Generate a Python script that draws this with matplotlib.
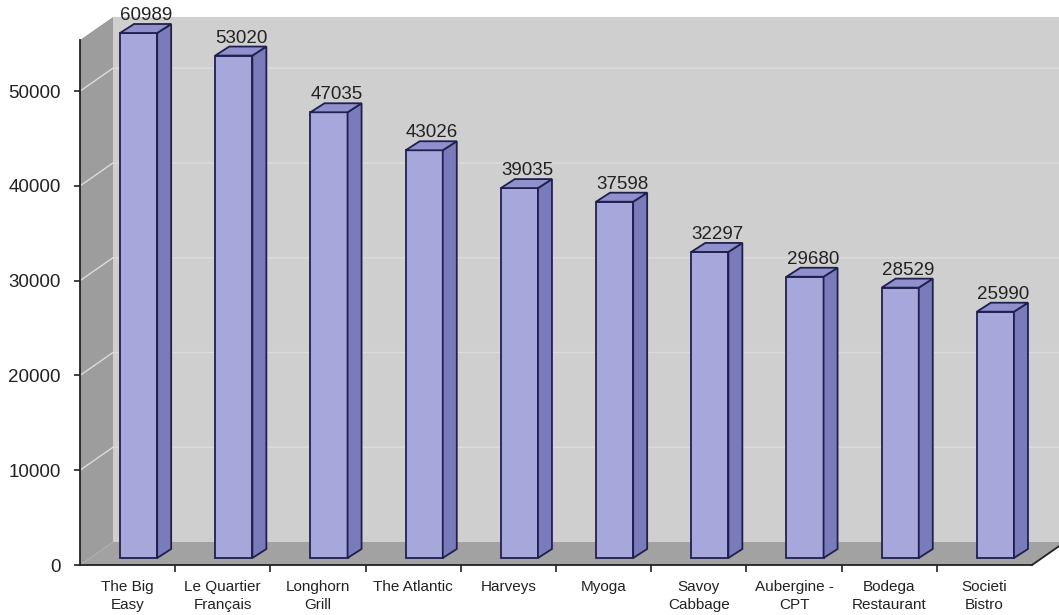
import matplotlib.pyplot as plt
from matplotlib.patches import Polygon
from matplotlib.lines import Line2D
from matplotlib.transforms import IdentityTransform

restaurants = ["The Big\nEasy", "Le Quartier\nFrançais", "Longhorn\nGrill", "The Atlantic",
               "Harveys", "Myoga", "Savoy\nCabbage", "Aubergine -\nCPT",
               "Bodega\nRestaurant", "Societi\nBistro"]
visitors = [60989, 53020, 47035, 43026, 39035, 37598, 32297, 29680, 28529, 25990]
yticks = [0, 10000, 20000, 30000, 40000, 50000]

plt.rcParams['font.family'] = ['Liberation Sans', 'DejaVu Sans']

fig = plt.figure(figsize=(10.59, 6.15), dpi=100)
ax = fig.add_axes([80 / 1059, 50 / 615, 952 / 1059, 525 / 615])
ymax = 55400
ax.set_xlim(-0.5, len(visitors) - 0.5)
ax.set_ylim(0, ymax)
ax.patch.set_visible(False)
ax.spines['top'].set_visible(False)
ax.spines['right'].set_visible(False)
for s in ['left', 'bottom']:
    ax.spines[s].set_color('#222222')
    ax.spines[s].set_linewidth(1.3)

ax.set_yticks(yticks)
ax.set_yticklabels([str(t) for t in yticks])
ax.tick_params(axis='y', length=4, width=1.2, pad=10, labelsize=13.5, colors='#222222')
ax.set_xticks(range(len(restaurants)))
ax.set_xticklabels(restaurants, linespacing=1.35)
ax.tick_params(axis='x', length=0, pad=11, labelsize=11, colors='#222222')
ax.set_xticks([i + 0.5 for i in range(len(restaurants) - 1)], minor=True)
ax.tick_params(axis='x', which='minor', length=5, width=1.2, color='#222222')

# depth of the 3d box (pixels)
dx, dy = 33, 23
(x0, y0) = ax.transData.transform((-0.5, 0))
(x1, y1) = ax.transData.transform((len(visitors) - 0.5, ymax))
ident = IdentityTransform()

def poly(pts, fc, ec='none', lw=0, z=0.5):
    p = Polygon(pts, closed=True, facecolor=fc, edgecolor=ec, linewidth=lw,
                transform=ident, zorder=z, clip_on=False)
    ax.add_patch(p)

# back wall, side wall, floor
poly([(x0 + dx, y0 + dy), (x1 + dx, y0 + dy), (x1 + dx, y1 + dy), (x0 + dx, y1 + dy)], '#cfcfcf', z=0.1)
poly([(x0, y0), (x0 + dx, y0 + dy), (x0 + dx, y1 + dy), (x0, y1)], '#9d9d9d', z=0.2)
poly([(x0, y0), (x1, y0), (x1 + dx, y0 + dy), (x0 + dx, y0 + dy)], '#a2a2a2', z=0.2)
ax.add_line(Line2D([x1, x1 + dx], [y0, y0 + dy], color='#222222', lw=1.3,
                   transform=ident, clip_on=False, zorder=0.3))

# faint gridlines on walls
for t in yticks[1:]:
    yt = ax.transData.transform((0, t))[1]
    ax.add_line(Line2D([x0, x0 + dx, x1 + dx], [yt, yt + dy, yt + dy], color='#dcdcdc',
                       lw=1.0, transform=ident, clip_on=False, zorder=0.25))

# bars
bw = 0.39
ox, oy = 11, 7      # offset of bar front from the front plane
sx, sy = 14, 9      # bar depth
front = '#a6a8dc'
side = '#7a7bbb'
top = '#8f90cc'
edge = '#20204e'
for i, v in enumerate(visitors):
    h = min(v, ymax)
    xl, yb = ax.transData.transform((i - bw / 2, 0))
    xr, yt = ax.transData.transform((i + bw / 2, h))
    xl, xr, yb, yt = xl + ox, xr + ox, yb + oy, yt + oy
    poly([(xl, yb), (xr, yb), (xr, yt), (xl, yt)], front, edge, 1.3, 2)
    poly([(xr, yb), (xr + sx, yb + sy), (xr + sx, yt + sy), (xr, yt)], side, edge, 1.3, 2)
    poly([(xl, yt), (xr, yt), (xr + sx, yt + sy), (xl + sx, yt + sy)], top, edge, 1.3, 2)
    ax.annotate(str(v), xy=(i, h), xytext=(13.5, 11.5), textcoords='offset points',
                ha='center', va='bottom', fontsize=13.5, color='#222222', zorder=3,
                annotation_clip=False)

fig.savefig('out.png', dpi=100)
